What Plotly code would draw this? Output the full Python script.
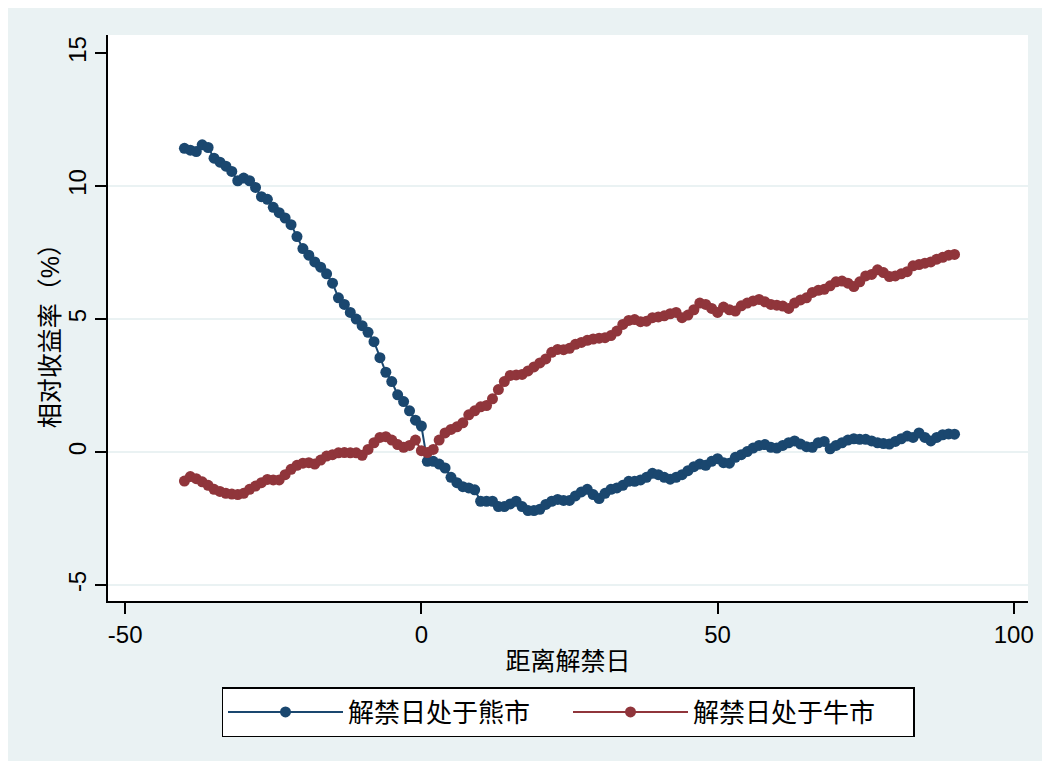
import plotly.graph_objects as go

days = list(range(-40, 91))

bear = [
    11.42, 11.35, 11.30, 11.55, 11.45, 11.05, 10.90, 10.75, 10.55, 10.20,
    10.30, 10.20, 9.95, 9.60, 9.50, 9.20, 9.00, 8.80, 8.55, 8.10,
    7.65, 7.40, 7.15, 6.95, 6.70, 6.35, 5.80, 5.55, 5.25, 5.00,
    4.75, 4.50, 4.15, 3.55, 3.00, 2.65, 2.15, 1.90, 1.55, 1.20,
    0.98, -0.35, -0.35, -0.45, -0.60, -0.95, -1.15, -1.30, -1.35, -1.42,
    -1.85, -1.85, -1.85, -2.05, -2.05, -1.95, -1.85, -2.05, -2.20, -2.20,
    -2.15, -1.97, -1.85, -1.78, -1.82, -1.82, -1.65, -1.50, -1.40, -1.60,
    -1.75, -1.55, -1.40, -1.35, -1.25, -1.10, -1.10, -1.05, -0.95, -0.80,
    -0.85, -0.95, -1.02, -0.95, -0.85, -0.70, -0.55, -0.45, -0.50, -0.35,
    -0.25, -0.40, -0.42, -0.20, -0.10, 0.02, 0.15, 0.25, 0.28, 0.18,
    0.15, 0.25, 0.35, 0.42, 0.30, 0.20, 0.18, 0.35, 0.40, 0.12,
    0.25, 0.35, 0.45, 0.50, 0.48, 0.48, 0.42, 0.35, 0.32, 0.30,
    0.40, 0.50, 0.60, 0.55, 0.72, 0.55, 0.42, 0.55, 0.65, 0.68,
    0.67,
]

bull = [
    -1.09, -0.92, -1.00, -1.12, -1.25, -1.40, -1.48, -1.55, -1.58, -1.60,
    -1.55, -1.40, -1.28, -1.15, -1.03, -1.05, -1.05, -0.85, -0.65, -0.50,
    -0.42, -0.40, -0.45, -0.30, -0.15, -0.10, -0.03, -0.02, -0.03, -0.03,
    -0.12, 0.10, 0.35, 0.55, 0.58, 0.45, 0.28, 0.18, 0.25, 0.45,
    0.05, -0.02, 0.10, 0.45, 0.72, 0.85, 0.95, 1.10, 1.40, 1.55,
    1.70, 1.75, 2.00, 2.35, 2.65, 2.88, 2.90, 2.92, 3.05, 3.20,
    3.35, 3.50, 3.75, 3.86, 3.85, 3.90, 4.05, 4.12, 4.20, 4.25,
    4.28, 4.30, 4.38, 4.55, 4.80, 4.95, 4.98, 4.90, 4.92, 5.05,
    5.08, 5.12, 5.20, 5.25, 5.05, 5.15, 5.35, 5.60, 5.55, 5.40,
    5.25, 5.45, 5.35, 5.30, 5.50, 5.60, 5.68, 5.74, 5.65, 5.55,
    5.52, 5.49, 5.40, 5.60, 5.72, 5.80, 6.00, 6.08, 6.12, 6.25,
    6.40, 6.43, 6.35, 6.22, 6.40, 6.62, 6.68, 6.85, 6.75, 6.60,
    6.62, 6.70, 6.78, 7.00, 7.05, 7.10, 7.15, 7.25, 7.32, 7.40,
    7.43,
]

x_ticks = [-50, 0, 50, 100]
x_tick_labels = ["-50", "0", "50", "100"]
y_ticks = [-5, 0, 5, 10, 15]
y_tick_labels = ["-5", "0", "5", "10", "15"]
grid_vals = [-5, 0, 5, 10]

series_names = ["解禁日处于熊市", "解禁日处于牛市"]
colors = ["#1a476f", "#90353b"]
x_title = "距离解禁日"
y_title = "相对收益率（%）"

FONT = "Arial, 'Liberation Sans', 'Noto Sans CJK SC', sans-serif"
BG = "#EAF2F3"

fig = go.Figure()
for name, ys, c in zip(series_names, [bear, bull], colors):
    fig.add_trace(go.Scatter(
        x=days, y=ys, name=name, mode="lines+markers",
        line=dict(color=c, width=2),
        marker=dict(color=c, size=11),
    ))

W, H = 1038, 753
L, R, T, B = 100, 16, 27, 160
pw, ph = W - L - R, H - T - B

def px_x(p):
    return (p - L) / pw

def px_y(p):
    return (H - B - p) / ph

shapes = []
for g in grid_vals:
    shapes.append(dict(type="line", xref="paper", yref="y", x0=0, x1=1, y0=g, y1=g,
                       line=dict(color=BG, width=2), layer="below"))

fig.add_annotation(text=y_title, xref="paper", yref="paper",
                   x=px_x(42), y=px_y(322), xanchor="center", yanchor="middle",
                   textangle=-90, showarrow=False, font=dict(size=25))

fig.update_layout(
    width=W, height=H,
    margin=dict(l=L, r=R, t=T, b=B),
    paper_bgcolor=BG, plot_bgcolor="white",
    font=dict(family=FONT, color="#000000", size=20),
    showlegend=True,
    legend=dict(orientation="h", x=0.5, xanchor="center", y=px_y(679), yanchor="top",
                bgcolor="white", bordercolor="black", borderwidth=1.5,
                font=dict(size=26), itemwidth=115, traceorder="normal",
                entrywidth=215, entrywidthmode="pixels"),
    shapes=shapes,
    xaxis=dict(range=[-52.9, 102.4], tickvals=x_ticks, ticktext=x_tick_labels,
               showgrid=False, zeroline=False,
               showline=True, linecolor="black", linewidth=1.5,
               ticks="outside", ticklen=11, tickcolor="black", tickwidth=1.5,
               tickfont=dict(size=24),
               title=dict(text=x_title, font=dict(size=25), standoff=6)),
    yaxis=dict(range=[-5.6, 15.68], tickvals=y_ticks, ticktext=y_tick_labels,
               showgrid=False, zeroline=False,
               showline=True, linecolor="black", linewidth=1.5,
               ticks="outside", ticklen=11, tickcolor="black", tickwidth=1.5,
               tickangle=-90, tickfont=dict(size=24)),
)

fig.write_html("out.html")
